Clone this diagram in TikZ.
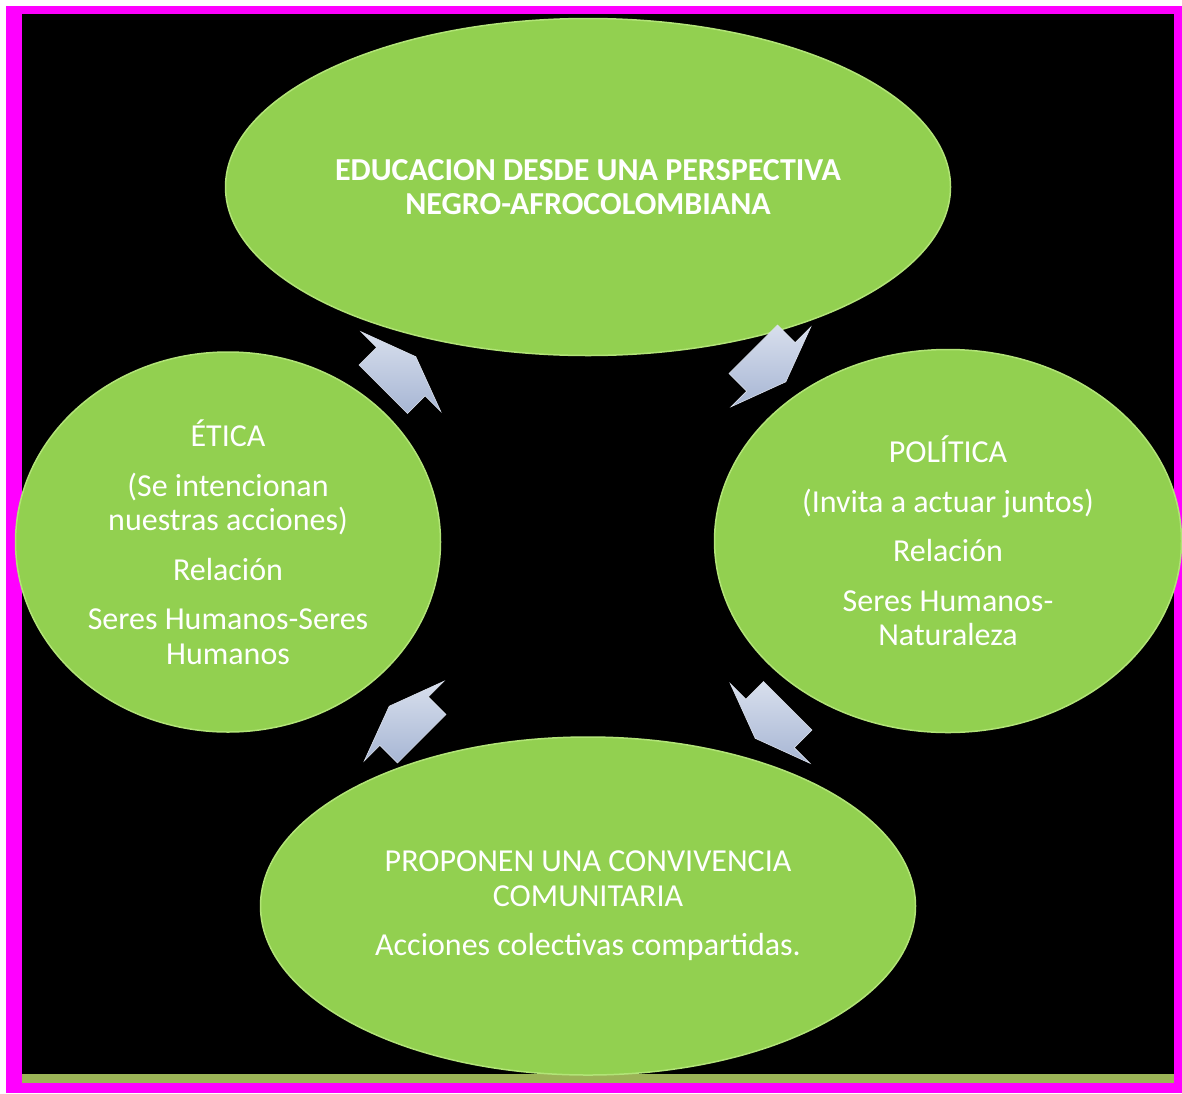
\documentclass[tikz,border=0pt]{standalone}
\usepackage{fontspec}
\setmainfont{Carlito}
\usetikzlibrary{shapes.geometric,shapes.arrows,calc}
\definecolor{frame}{HTML}{FF00FF}
\definecolor{leaf}{HTML}{92D050}
\definecolor{leafrim}{HTML}{B2E477}
\definecolor{strip}{HTML}{9BB357}
\definecolor{steel}{HTML}{A7B6D4}
\definecolor{steellight}{HTML}{D8DFED}
\tikzset{
	bubble/.style={ellipse,fill=leaf,draw=leafrim,line width=1.5pt,text=white,
		align=center,inner sep=0pt,font=\fontsize{32}{34.5}\selectfont},
	turn/.style={single arrow,top color=steellight,bottom color=steel,
		draw=white!60!steel,line width=0.6pt,inner xsep=0pt,inner ysep=34pt,
		minimum height=46pt,single arrow head extend=22pt,single arrow tip angle=139}
}
\begin{document}
\begin{tikzpicture}[x=1pt,y=-1pt]
	\useasboundingbox (0,0) rectangle (1182,1093);
	\fill[frame] (6,6) rectangle (1182,1093);
	\fill[black] (22,14) rectangle (1174,1074);
	\fill[strip] (22,1074) rectangle (1174,1083);
	% the four fields of the cycle
	\node[bubble,minimum width=725pt,minimum height=337pt,
		font=\fontsize{32}{34.5}\selectfont\bfseries] (educacion) at (588,187)
		{EDUCACION DESDE UNA PERSPECTIVA\\NEGRO-AFROCOLOMBIANA};
	\node[bubble,minimum width=425pt,minimum height=380pt] (etica) at (228,542)
		{ÉTICA\\[15pt](Se intencionan\\nuestras acciones)\\[15pt]Relación\\[15pt]Seres Humanos-Seres\\Humanos};
	\node[bubble,minimum width=467pt,minimum height=383pt] (politica) at (948,541)
		{POLÍTICA\\[15pt](Invita a actuar juntos)\\[15pt]Relación\\[15pt]Seres Humanos-\\Naturaleza};
	\node[bubble,minimum width=655pt,minimum height=338pt] (convivencia) at (588,906)
		{PROPONEN UNA CONVIVENCIA\\COMUNITARIA\\[15pt]Acciones colectivas compartidas.};
	% arrows between the fields
	\node[turn,rotate=45] (a1) at ($(etica.center)!0.5!(educacion.center)+(-13,13)$) {};
	\node[turn,rotate=-45] (a2) at ($(educacion.center)!0.5!(politica.center)+(-3,-3)$) {};
	\node[turn,rotate=-135] (a3) at ($(politica.center)!0.5!(convivencia.center)+(8,-6)$) {};
	\node[turn,rotate=135] (a4) at ($(convivencia.center)!0.5!(etica.center)+(2,3)$) {};
\end{tikzpicture}
\end{document}
